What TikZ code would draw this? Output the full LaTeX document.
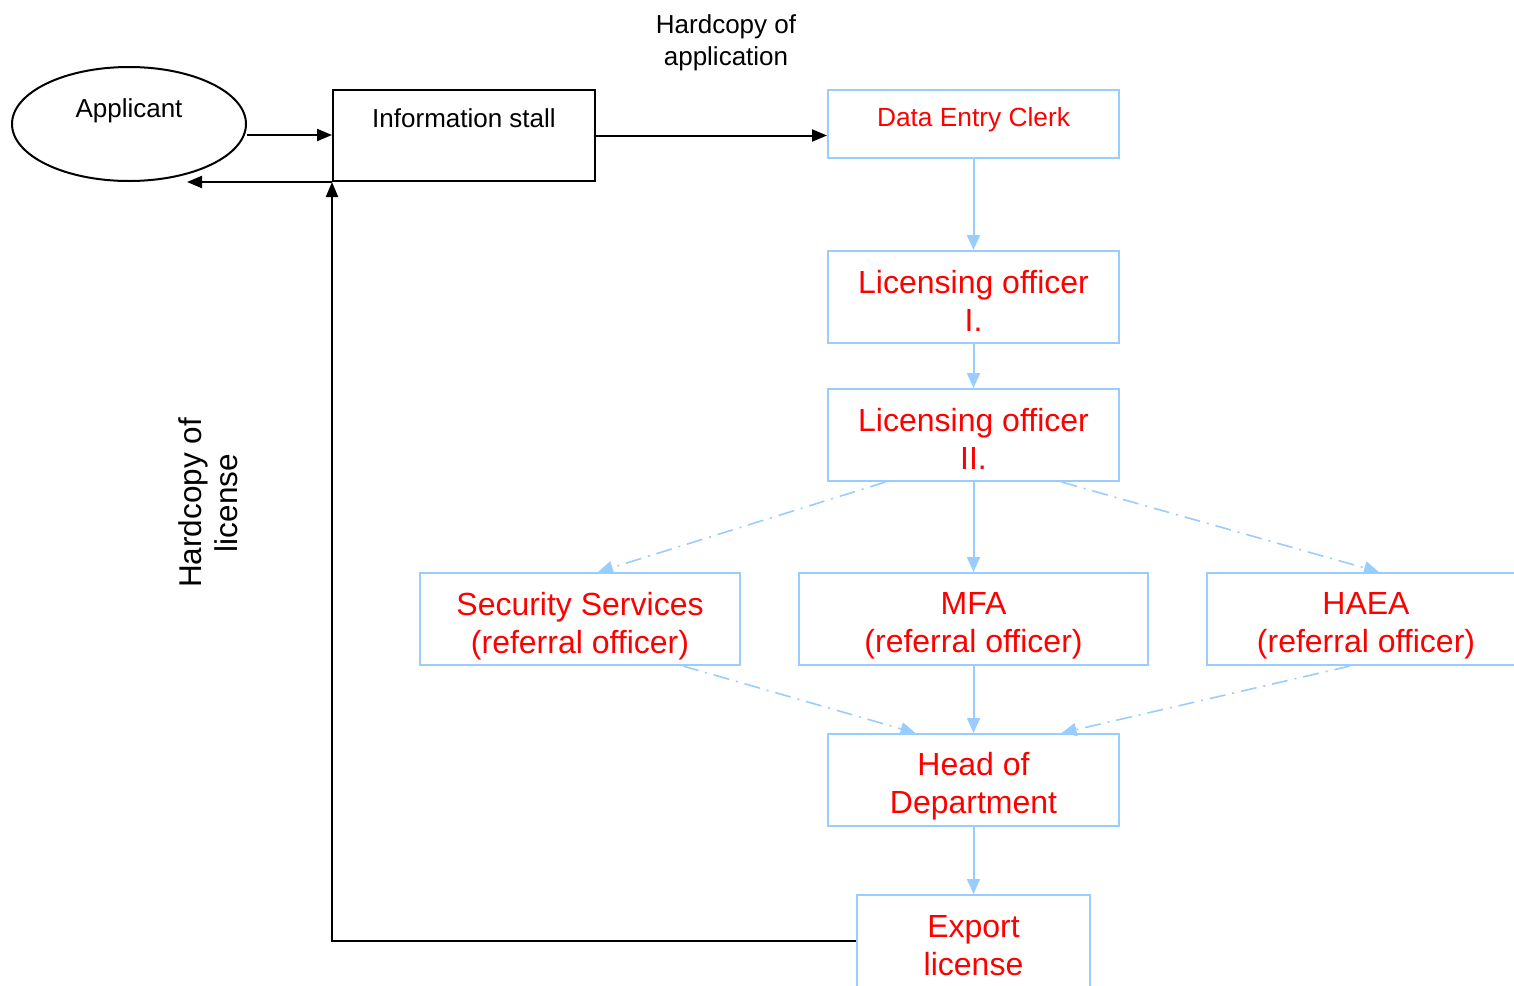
\documentclass[tikz,border=0pt]{standalone}
\usepackage{fontspec}
\setmainfont{Liberation Sans}
\usetikzlibrary{arrows.meta,shapes.geometric}
\definecolor{lblue}{HTML}{99CCFF}
\definecolor{dred}{HTML}{FF0000}
\tikzset{
  bbox/.style={draw=black,line width=2pt,inner sep=0pt},
  lbox/.style={draw=lblue,line width=2pt,inner sep=0pt},
  btxt/.style={inner sep=0pt,align=center,font=\fontsize{26}{32}\selectfont},
  rtxt/.style={inner sep=0pt,align=center,text=dred,font=\fontsize{32}{38}\selectfont},
  rtxts/.style={inner sep=0pt,align=center,text=dred,font=\fontsize{26.3}{32}\selectfont},
  blk/.style={draw=black,line width=2pt,-{Triangle[length=15pt,width=12pt]}},
  blu/.style={draw=lblue,line width=2pt,-{Triangle[length=15pt,width=13pt]}},
  bludd/.style={draw=lblue,line width=1.6pt,dash pattern=on 16pt off 7pt on 2pt off 7pt,-{Triangle[length=15pt,width=13pt]}},
}
\begin{document}
\begin{tikzpicture}[x=1pt,y=-1pt]
\useasboundingbox (0,0) rectangle (1514,985);
\begin{scope}
\clip (0,0) rectangle (1514,985);
% Applicant
\node[draw=black,line width=2pt,ellipse,minimum width=234pt,minimum height=114pt,inner sep=0pt] (app) at (129,124) {};
\node[btxt] (appt) at (129,111) {Applicant};
% Information stall
\node[bbox,minimum width=262pt,minimum height=91pt] (info) at (464,135.5) {};
\node[btxt] (infot) at (464,118) {Information stall};
% label
\node[btxt] (hca) at (726,43) {Hardcopy of\\application};
% Data entry clerk
\node[lbox,minimum width=291pt,minimum height=68pt] (dec) at (973.5,124) {};
\node[rtxts] (dect) at (973.5,120) {Data Entry Clerk};
% Licensing officers
\node[lbox,minimum width=291pt,minimum height=92pt] (lo1) at (973.5,297) {};
\node[rtxt] (lo1t) at (973.5,301) {Licensing officer\\I.};
\node[lbox,minimum width=291pt,minimum height=92pt] (lo2) at (973.5,435) {};
\node[rtxt] (lo2t) at (973.5,439) {Licensing officer\\II.};
% referral
\node[lbox,minimum width=320pt,minimum height=92pt] (sec) at (580,619) {};
\node[rtxt] (sect) at (580,626) {Security Services\\(referral officer)};
\node[lbox,minimum width=349pt,minimum height=92pt] (mfa) at (973.5,619) {};
\node[rtxt] (mfat) at (973.5,626) {MFA\\(referral officer)};
\node[lbox,minimum width=320pt,minimum height=92pt] (haea) at (1367,619) {};
\node[rtxt] (haeat) at (1366,626) {HAEA\\(referral officer)};
% Head
\node[lbox,minimum width=291pt,minimum height=92pt] (hod) at (973.5,780) {};
\node[rtxt] (hodt) at (973.5,786) {Head of\\Department};
% Export
\node[lbox,minimum width=233pt,minimum height=92pt] (exp) at (973.5,941) {};
\node[rtxt] (expt) at (973.5,946) {Export\\license};
% rotated label
\node[btxt,rotate=90,font=\fontsize{31.5}{36}\selectfont] (hcl) at (208,503) {Hardcopy of\\license};
% black connectors
\coordinate (back) at ([xshift=-145pt]info.south west);
\draw[blk] ([yshift=-11pt]app.east) -- ([yshift=-11pt]app.east -| info.west);
\draw[blk] (info.south west) -- (back);
\draw[blk] (info.east) -- (info.east -| dec.west);
\draw[blk] (exp.west) -- (info.south west |- exp.west) -- (info.south west);
% blue connectors
\draw[blu] (dec.south) -- (lo1.north);
\draw[blu] (lo1.south) -- (lo2.north);
\draw[blu] (lo2.south) -- (mfa.north);
\draw[blu] (mfa.south) -- (hod.north);
\draw[blu] (hod.south) -- (exp.north);
\draw[bludd] ([xshift=-88pt]lo2.south) -- ([xshift=18pt]sec.north);
\draw[bludd] ([xshift=88pt]lo2.south) -- ([xshift=12pt]haea.north);
\draw[bludd] ([xshift=103pt]sec.south) -- ([xshift=-58pt]hod.north);
\draw[bludd] ([xshift=-17pt]haea.south) -- ([xshift=88pt]hod.north);
\end{scope}
\end{tikzpicture}
\end{document}
